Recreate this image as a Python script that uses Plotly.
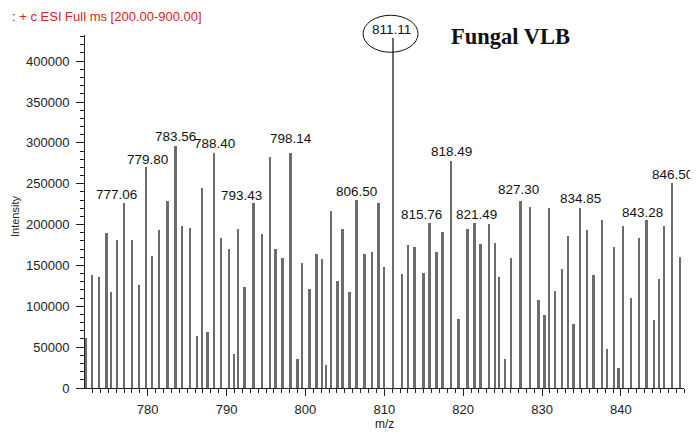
import plotly.graph_objects as go

# peak list (m/z, intensity)
mz = [772.17, 773.00, 773.89, 774.83, 775.37, 776.13, 777.06, 778.03, 778.95, 779.80,
      780.60, 781.48, 782.55, 783.56, 784.39, 785.37, 786.29, 786.93, 787.61, 788.40,
      789.29, 790.31, 790.94, 791.51, 792.29, 793.43, 794.52, 795.50, 796.22, 797.10,
      798.14, 799.04, 799.58, 800.56, 801.45, 802.12, 802.67, 803.26, 804.10, 804.74,
      805.62, 806.50, 807.52, 808.50, 809.29, 810.03, 811.11, 812.29, 813.00, 813.85,
      814.99, 815.76, 816.67, 817.43, 818.49, 819.42, 820.56, 821.49, 822.21, 823.31,
      824.10, 824.61, 825.37, 826.13, 827.30, 828.51, 829.57, 830.34, 830.94, 831.70,
      832.55, 833.31, 834.02, 834.85, 835.75, 836.55, 837.65, 838.28, 839.17, 839.71,
      840.27, 841.32, 842.33, 843.28, 844.19, 844.83, 845.50, 846.50, 847.52]
intensity = [61600, 138000, 136000, 190000, 117000, 181000, 226000, 181000, 125700, 270000,
             162000, 193000, 229000, 296000, 198000, 195500, 64000, 245000, 69000, 287000,
             184000, 170000, 42000, 194000, 124000, 226000, 188500, 283000, 170000, 158700,
             287000, 36000, 153000, 121000, 164000, 158000, 28000, 216500, 131000, 194500,
             118000, 230000, 164000, 166000, 227000, 147700, 428000, 139500, 175000, 172000,
             141000, 202000, 166500, 191000, 278000, 85000, 194500, 202000, 176000, 200500,
             177000, 136000, 35000, 159500, 229000, 222000, 108000, 89000, 220000, 119000,
             145600, 186500, 78000, 220700, 193400, 138000, 206000, 47700, 173000, 24000,
             198000, 110000, 183000, 205600, 83000, 133400, 198000, 250500, 160000]

labeled = [777.06, 779.80, 783.56, 788.40, 793.43, 798.14, 806.50, 811.11,
           815.76, 818.49, 821.49, 827.30, 834.85, 843.28, 846.50]
# label text offset from the peak top (px): dx, dy(up), green connector?
label_style = {
    777.06: (-8, 9, True), 779.80: (1, 8, False), 783.56: (0, 10, False),
    788.40: (1, 10, True), 793.43: (-12, 8, True), 798.14: (0, 15, False),
    806.50: (0, 9, False), 811.11: (-2, 9, False), 815.76: (-8, 8, True),
    818.49: (0, 9, False), 821.49: (2, 8, True), 827.30: (-2, 11, False),
    834.85: (0, 9, False), 843.28: (-4, 8, True), 846.50: (0, 9, False),
}

x_range = [772.05, 848.0]
y_range = [0, 432000]
x_ticks = [780, 790, 800, 810, 820, 830, 840]
y_ticks = [0, 50000, 100000, 150000, 200000, 250000, 300000, 350000, 400000]

font_face = "Liberation Sans, Arial"

fig = go.Figure(go.Bar(
    x=mz, y=intensity, width=0.24,
    marker=dict(color="#6c6c6c", line=dict(width=0)),
))

for m in labeled:
    h = intensity[mz.index(m)]
    dx, dy, link = label_style[m]
    fig.add_annotation(
        x=m, y=h, text=f"{m:.2f}",
        showarrow=link, arrowhead=0, arrowwidth=1, arrowcolor="#4cc25c",
        ax=dx, ay=-dy, xshift=0 if link else dx, yshift=0 if link else dy,
        font=dict(family=font_face, size=13.5, color="#111"),
    )

# ellipse round the base peak (paper-referenced so it is not clipped at the top)
top_mz = labeled[7]
fig.add_shape(
    type="circle", xref="paper", yref="paper",
    xsizemode="pixel", ysizemode="pixel",
    xanchor=(top_mz - x_range[0]) / (x_range[1] - x_range[0]),
    yanchor=intensity[mz.index(top_mz)] / y_range[1],
    x0=-30, x1=25, y0=-14, y1=23,
    line=dict(color="#111", width=1),
)

# plot area in window pixels: left 85, right 684, top 35, bottom 388
def px(x, y):
    return (x - 85) / 599, (388 - y) / 353

hx, hy = px(10, 17)
fig.add_annotation(
    x=hx, y=hy, xref="paper", yref="paper", xanchor="left", yanchor="middle",
    showarrow=False,
    text="<span style='color:#333'>:</span> + c ESI Full ms [200.00-900.00]",
    font=dict(family=font_face, size=13, color="#d42424"),
)
fx, fy = px(510, 37)
fig.add_annotation(
    x=fx, y=fy, xref="paper", yref="paper", xanchor="center", yanchor="middle",
    showarrow=False, text="<b>Fungal VLB</b>",
    font=dict(family="Liberation Serif, Times New Roman", size=22.5, color="#111"),
)
ix, iy = px(15, 217)
fig.add_annotation(
    x=ix, y=iy, xref="paper", yref="paper", xanchor="center", yanchor="middle",
    showarrow=False, textangle=-90,
    text="Intensity", font=dict(family=font_face, size=11, color="#222"),
)
mx, my = px(384, 424)
fig.add_annotation(
    x=mx, y=my, xref="paper", yref="paper", xanchor="center", yanchor="middle",
    showarrow=False,
    text="m/z", font=dict(family=font_face, size=12, color="#222"),
)

axis_font = dict(family=font_face, size=13, color="#222")
fig.update_xaxes(
    range=x_range, tickvals=x_ticks, showgrid=False, zeroline=False,
    showline=True, linecolor="#222", linewidth=1,
    ticks="outside", ticklen=7, tickcolor="#222", tickfont=axis_font,
    ticklabelstandoff=2,
    minor=dict(ticks="outside", ticklen=4, dtick=1, tickcolor="#222", showgrid=False),
)
fig.update_yaxes(
    range=y_range, tickvals=y_ticks, tickformat="d", showgrid=False, zeroline=False,
    showline=True, linecolor="#222", linewidth=1,
    ticks="outside", ticklen=8, tickcolor="#222", tickfont=axis_font,
    ticklabelstandoff=4,
    minor=dict(ticks="outside", ticklen=4, dtick=10000, tickcolor="#222", showgrid=False),
)

# page body has an 8px margin, so the figure is 8px smaller than the window
fig.update_layout(
    width=690, height=425,
    margin=dict(l=77, r=14, t=27, b=45),
    paper_bgcolor="white", plot_bgcolor="white",
    showlegend=False, bargap=0,
)

fig.write_html("out.html")
